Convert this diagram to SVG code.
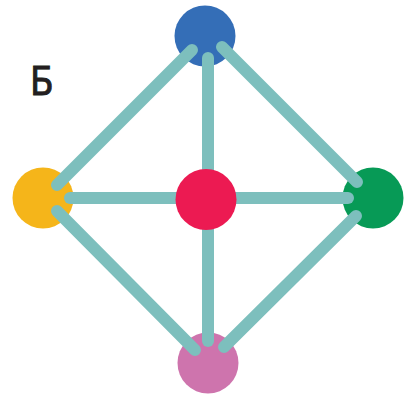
<svg xmlns="http://www.w3.org/2000/svg" width="406" height="395" viewBox="0 0 406 395">
  <style>
    .edge { stroke: #7DBFBD; stroke-width: 12; stroke-linecap: round; fill: none; }
    .lbl { font-family: "Liberation Sans Narrow", "DejaVu Sans Condensed", "Liberation Sans", sans-serif; font-size: 38.5px; fill: #231F20; stroke: #231F20; stroke-width: 0.8; }
  </style>
  <rect width="406" height="395" fill="#FFFFFF"/>
  <text class="lbl" x="30" y="94.5">Б</text>
  <g id="node-top"><circle cx="205" cy="36" r="30.5" fill="#346EB7"/></g>
  <g id="node-left"><circle cx="43" cy="198" r="30.5" fill="#F5B51A"/></g>
  <g id="node-right"><circle cx="373" cy="198" r="30.5" fill="#079A56"/></g>
  <g id="node-bottom"><circle cx="208" cy="363" r="30.5" fill="#CE74AD"/></g>
  <g id="connectors">
    <line class="edge" x1="192" y1="50" x2="57" y2="185"/>
    <line class="edge" x1="222" y1="47" x2="357" y2="182"/>
    <line class="edge" x1="208" y1="58" x2="208" y2="341"/>
    <line class="edge" x1="70" y1="198" x2="348" y2="198"/>
    <line class="edge" x1="57" y1="211" x2="195" y2="350"/>
    <line class="edge" x1="356" y1="216" x2="224" y2="347"/>
  </g>
  <g id="node-center"><circle cx="206" cy="199.5" r="30.5" fill="#EC1A52"/></g>
</svg>
